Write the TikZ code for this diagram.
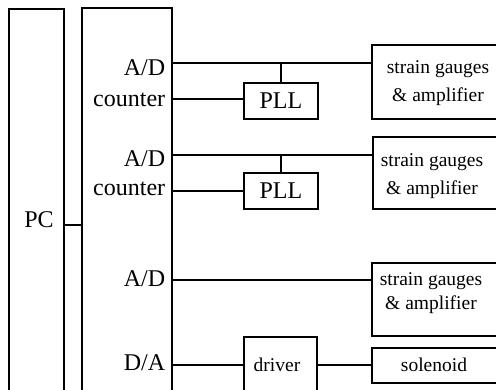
\documentclass[tikz,border=0pt]{standalone}
\usepackage{fontspec}
\setmainfont{Liberation Serif}
\usetikzlibrary{positioning}

\begin{document}
\begin{tikzpicture}[
        x=1pt, y=-1pt,
        line width=1.7pt,
        blk/.style={draw, rectangle, inner sep=0pt, anchor=north west},
        port/.style={font=\fontsize{24}{24}\selectfont, anchor=base east, inner sep=0pt},
        sgtext/.style={font=\fontsize{19.5}{28}\selectfont, align=center, inner sep=0pt},
        small/.style={font=\fontsize{19.5}{19.5}\selectfont, anchor=base, inner sep=0pt},
    ]
    \useasboundingbox (0,0) rectangle (496,389);
    \clip (0,0) rectangle (496,389);

    % left side: PC and interface card
    \node[blk, minimum width=55pt, minimum height=420pt] (pc) at (8,8) {};
    \node[blk, minimum width=90pt, minimum height=420pt] (io) at (81,7) {};
    \node[port, anchor=base] (pclbl) at (39,227) {PC};

    \node[port] (ad1lbl)  at (166,75)  {A/D};
    \node[port] (cnt1lbl) at (166,106) {counter};
    \node[port] (ad2lbl)  at (166,166) {A/D};
    \node[port] (cnt2lbl) at (166,195) {counter};
    \node[port] (ad3lbl)  at (166,286) {A/D};
    \node[port] (dalbl)   at (166,370) {D/A};

    % middle blocks
    \node[blk, minimum width=74pt, minimum height=36pt,
          font=\fontsize{24}{24}\selectfont] (pll1) at (243,82)  {PLL};
    \node[blk, minimum width=74pt, minimum height=36pt,
          font=\fontsize{24}{24}\selectfont] (pll2) at (243,172) {PLL};
    \node[blk, minimum width=73pt, minimum height=80pt] (drv) at (243,336) {};
    \node[small] (drvlbl) at (277,371) {driver};

    % right blocks
    \node[blk, minimum width=150pt, minimum height=74pt] (sg1) at (371,44)  {};
    \node[blk, minimum width=150pt, minimum height=72pt] (sg2) at (372,136) {};
    \node[blk, minimum width=150pt, minimum height=73pt] (sg3) at (371,262) {};
    \node[blk, minimum width=150pt, minimum height=35pt] (sol) at (371,347) {};
    \node[sgtext] (sg1lbl) at (438,83.5) {strain gauges\\\& amplifier};
    \node[sgtext] (sg2lbl) at (432,176)  {strain gauges\\\& amplifier};
    \node[sgtext, font=\fontsize{19.5}{23.5}\selectfont] (sg3lbl) at (431,293) {strain gauges\\\& amplifier};
    \node[small] (sollbl) at (434,371) {solenoid};

    % ports on the card
    \coordinate (pcp) at (63,225);
    \coordinate (ad1) at (171,63);
    \coordinate (cnt1) at (171,99);
    \coordinate (ad2) at (171,155);
    \coordinate (cnt2) at (171,191);
    \coordinate (ad3) at (171,280);
    \coordinate (da) at (171,365);

    % wiring
    \draw (pcp) -- (pcp -| io.west);
    \draw (ad1) -- (ad1 -| sg1.west);
    \draw (pll1.north) -- (pll1.north |- ad1);
    \draw (cnt1) -- (cnt1 -| pll1.west);
    \draw (ad2) -- (ad2 -| sg2.west);
    \draw (pll2.north) -- (pll2.north |- ad2);
    \draw (cnt2) -- (cnt2 -| pll2.west);
    \draw (ad3) -- (ad3 -| sg3.west);
    \draw (da) -- (da -| drv.west);
    \draw (drv.east |- da) -- (sol.west |- da);
\end{tikzpicture}
\end{document}
